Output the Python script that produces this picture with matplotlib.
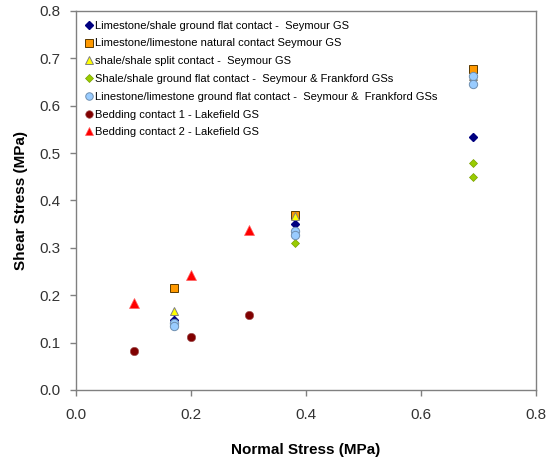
import matplotlib
matplotlib.use("Agg")
import matplotlib.pyplot as plt

plt.rcParams['font.family'] = ['Liberation Sans', 'DejaVu Sans']

# shear test results (normal stress, shear stress) in MPa
ls_sh_x = [0.17, 0.38, 0.69]
ls_sh_y = [0.147, 0.351, 0.534]

ls_ls_nat_x = [0.17, 0.38, 0.69]
ls_ls_nat_y = [0.216, 0.370, 0.677]

sh_split_x = [0.17, 0.38, 0.69]
sh_split_y = [0.166, 0.368, 0.662]

sh_sh_x = [0.38, 0.69, 0.69]
sh_sh_y = [0.311, 0.480, 0.449]

ls_ls_gr_x = [0.17, 0.17, 0.38, 0.38, 0.69, 0.69]
ls_ls_gr_y = [0.142, 0.135, 0.336, 0.327, 0.662, 0.645]

bed1_x = [0.1, 0.2, 0.3]
bed1_y = [0.082, 0.111, 0.158]

bed2_x = [0.1, 0.2, 0.3]
bed2_y = [0.183, 0.243, 0.338]

labels = [
    "Limestone/shale ground flat contact -  Seymour GS",
    "Limestone/limestone natural contact Seymour GS",
    "shale/shale split contact -  Seymour GS",
    "Shale/shale ground flat contact -  Seymour & Frankford GSs",
    "Linestone/limestone ground flat contact -  Seymour &  Frankford GSs",
    "Bedding contact 1 - Lakefield GS",
    "Bedding contact 2 - Lakefield GS",
]

fig = plt.figure(figsize=(5.48, 4.58), dpi=100)
ax = fig.add_axes([0.1387, 0.1485, 0.8395, 0.8275])

ax.plot(ls_sh_x, ls_sh_y, ls="none", marker="D", ms=4.0, mfc="#000080",
        mec="#000080", label=labels[0])
ax.plot(ls_ls_nat_x, ls_ls_nat_y, ls="none", marker="s", ms=6.0, mfc="#FF9900",
        mec="#5a3a00", mew=0.7, label=labels[1])
ax.plot(sh_split_x, sh_split_y, ls="none", marker="^", ms=6.0, mfc="#FFFF00",
        mec="#808080", mew=0.7, label=labels[2])
ax.plot(sh_sh_x, sh_sh_y, ls="none", marker="D", ms=4.0, mfc="#99CC00",
        mec="#7aa000", mew=0.5, label=labels[3])
ax.plot(ls_ls_gr_x, ls_ls_gr_y, ls="none", marker="o", ms=6.0, mfc="#99CCFF",
        mec="#6f8fb0", mew=0.7, label=labels[4])
ax.plot(bed1_x, bed1_y, ls="none", marker="o", ms=6.0, mfc="#800000",
        mec="#a05050", mew=0.5, label=labels[5])
ax.plot(bed2_x, bed2_y, ls="none", marker="^", ms=6.5, mfc="#FF0000",
        mec="#ff6060", mew=0.5, label=labels[6])

ax.set_xlim(0, 0.8)
ax.set_ylim(0, 0.8)
ax.set_xticks([0.0, 0.2, 0.4, 0.6, 0.8])
ax.set_yticks([0.0, 0.1, 0.2, 0.3, 0.4, 0.5, 0.6, 0.7, 0.8])
ax.xaxis.set_major_formatter(matplotlib.ticker.FormatStrFormatter("%.1f"))
ax.yaxis.set_major_formatter(matplotlib.ticker.FormatStrFormatter("%.1f"))

for sp in ax.spines.values():
    sp.set_color("#808080")
    sp.set_linewidth(1.0)
ax.tick_params(direction="out", length=4, width=1, color="#808080",
               labelsize=11, labelcolor="#333333", pad=7)
ax.tick_params(axis="x", pad=9)

ax.set_xlabel("Normal Stress (MPa)", fontsize=11, fontweight="bold", labelpad=15)
ax.set_ylabel("Shear Stress (MPa)", fontsize=11, fontweight="bold", labelpad=8)

ax.legend(loc="upper left", frameon=False, fontsize=8, handlelength=0.6,
          handletextpad=0.2, labelspacing=0.7, borderaxespad=0.3,
          bbox_to_anchor=(0.005, 0.995), markerscale=0.9)

fig.savefig("out.png", dpi=100)
